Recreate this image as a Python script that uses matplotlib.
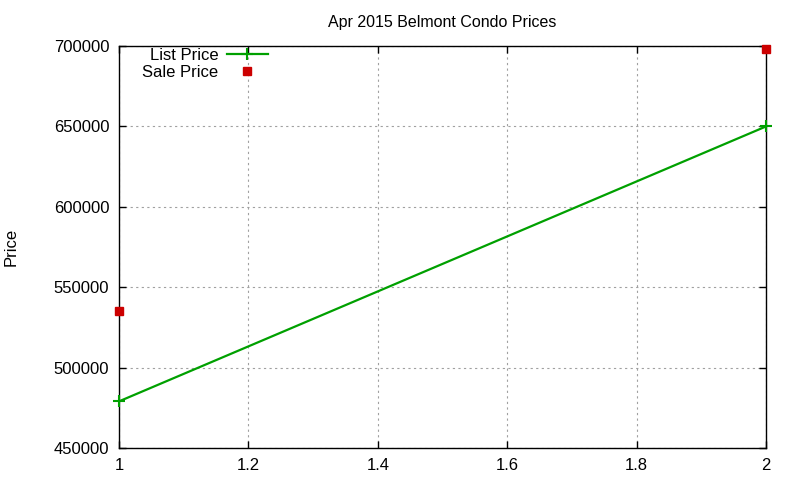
import matplotlib
matplotlib.use("Agg")
import matplotlib.pyplot as plt

x_vals = [1, 2]
list_price = [479000, 650000]
sale_price = [535000, 698000]
x_ticks = [1, 1.2, 1.4, 1.6, 1.8, 2]
y_ticks = [450000, 500000, 550000, 600000, 650000, 700000]

plt.rcParams['font.family'] = ['Liberation Sans', 'DejaVu Sans']
fig = plt.figure(figsize=(8, 4.8), dpi=100)
ax = fig.add_axes([0.14875, 0.0667, 0.80875, 0.8373])

ax.plot(x_vals, list_price, color='#00a000', lw=1.6, marker='+', ms=8, mew=1.5,
        label='List Price', clip_on=False, zorder=3)
ax.plot(x_vals, sale_price, ls='none', color='#cc0000', marker='s', ms=6,
        label='Sale Price', clip_on=False, zorder=3)

ax.set_xlim(1, 2)
ax.set_ylim(450000, 700000)
ax.set_xticks(x_ticks)
ax.set_xticklabels(['1', '1.2', '1.4', '1.6', '1.8', '2'])
ax.set_yticks(y_ticks)
ax.set_yticklabels([str(v) for v in y_ticks])
ax.tick_params(direction='in', top=True, right=True, length=5, labelsize=12, width=1)
ax.tick_params(axis='x', pad=7)
ax.tick_params(axis='y', pad=7)
ax.grid(True, color='#a0a0a0', ls=(0, (2, 3)), lw=0.8)
for s in ax.spines.values():
    s.set_linewidth(1)
ax.set_title('Apr 2015 Belmont Condo Prices', fontsize=11.5, pad=14)
ax.set_ylabel('Price', fontsize=12, labelpad=25)

leg = ax.legend(loc='upper left', bbox_to_anchor=(0.018, 1.025), frameon=False,
                markerfirst=False, fontsize=12, handlelength=2.45,
                handletextpad=0.5, labelspacing=0.15, borderaxespad=0.3)
for t in leg.get_texts():
    t.set_ha('right')

fig.savefig('out.png', dpi=100)
